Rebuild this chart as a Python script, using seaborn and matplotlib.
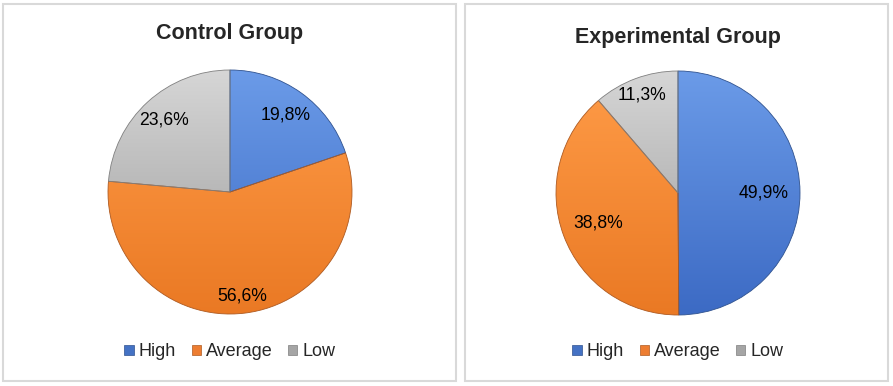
import numpy as np
import matplotlib
matplotlib.use("Agg")
import matplotlib.pyplot as plt
from matplotlib.colors import LinearSegmentedColormap
from matplotlib.patches import Rectangle, Patch
import seaborn as sns

sns.set_theme(style="white")
plt.rcParams['font.family'] = ['Liberation Sans', 'DejaVu Sans']

# data
categories = ["High", "Average", "Low"]
control_values = [19.8, 56.6, 23.6]
experimental_values = [49.9, 38.8, 11.3]
titles = ["Control Group", "Experimental Group"]

# colours: base, light (top) and dark (bottom) of the Excel-like gradient
base_colors = sns.color_palette(["#4472C4", "#ED7D31", "#A5A5A5"])
light_colors = ["#6B9BE8", "#FF9C48", "#D6D6D6"]
dark_colors = ["#3C6AC4", "#EA7924", "#9A9A9A"]
edge_colors = ["#2F528F", "#AE5A21", "#7F7F7F"]

# label distance from centre for each slice
control_label_r = [0.78, 0.86, 0.80]
experimental_label_r = [0.70, 0.70, 0.86]

W, H = 893, 386
fig = plt.figure(figsize=(W / 100, H / 100), dpi=100)

# panel borders (pixel boxes: x0, y0, x1, y1 top-down)
for x0, y0, x1, y1 in [(3, 4, 456, 381), (465, 4, 888, 381)]:
    fig.add_artist(Rectangle((x0 / W, 1 - y1 / H), (x1 - x0) / W, (y1 - y0) / H,
                             transform=fig.transFigure, fill=False,
                             edgecolor="#D9D9D9", linewidth=1.5))


def draw_pie(center, radius, values, label_r, title, title_y, legend_y):
    cx, cy = center
    ax = fig.add_axes([(cx - radius) / W, 1 - (cy + radius) / H,
                       2 * radius / W, 2 * radius / H])
    wedges, _ = ax.pie(values, startangle=90, counterclock=False,
                       colors=base_colors, radius=1)
    grad = np.linspace(1, 0, 256).reshape(-1, 1)
    for i, w in enumerate(wedges):
        cmap = LinearSegmentedColormap.from_list("g", [dark_colors[i], light_colors[i]])
        img = ax.imshow(grad, cmap=cmap, extent=[-1, 1, -1, 1], aspect="auto",
                        zorder=1, interpolation="bilinear")
        img.set_clip_path(w)
        w.set_facecolor("none")
        w.set_edgecolor(edge_colors[i])
        w.set_linewidth(0.6)
        w.set_zorder(2)
        mid = np.deg2rad((w.theta1 + w.theta2) / 2)
        r = label_r[i]
        ax.text(r * np.cos(mid), r * np.sin(mid),
                f"{values[i]:.1f}%".replace(".", ","),
                ha="center", va="center", fontsize=12.7, color="black", zorder=3)
    ax.set_xlim(-1, 1)
    ax.set_ylim(-1, 1)
    ax.set_aspect("equal")
    ax.axis("off")

    fig.text(cx / W, 1 - title_y / H, title, ha="center", va="center",
             fontsize=15.5, fontweight="bold")
    handles = [Patch(facecolor=base_colors[i], edgecolor=edge_colors[i], linewidth=0.5)
               for i in range(len(categories))]
    fig.legend(handles, categories, loc="center", bbox_to_anchor=(cx / W, 1 - legend_y / H),
               ncol=3, frameon=False, fontsize=13, handlelength=0.5, handleheight=0.5,
               handletextpad=0.3, columnspacing=0.85, borderpad=0)


draw_pie((230, 192), 122, control_values, control_label_r, titles[0], 33, 352)
draw_pie((678, 193), 122, experimental_values, experimental_label_r, titles[1], 38, 352)

fig.savefig("out.png", dpi=100)
